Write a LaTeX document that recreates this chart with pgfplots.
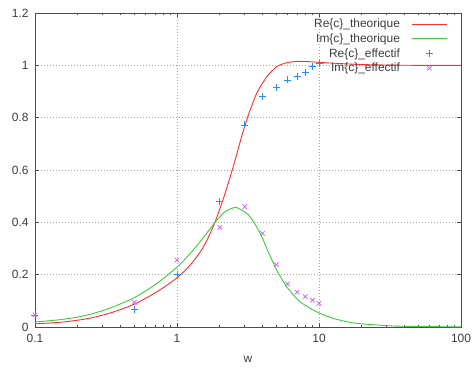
\documentclass[border=0pt]{standalone}
\usepackage{pgfplots}
\pgfplotsset{compat=1.18}
\usepackage{fontspec}
\setmainfont{Liberation Sans}
\definecolor{rec}{RGB}{255,45,45}
\definecolor{imc}{RGB}{60,205,60}
\definecolor{ree}{RGB}{40,140,255}
\definecolor{ime}{RGB}{205,90,255}
\definecolor{txt}{RGB}{60,60,60}
\begin{document}
\begin{tikzpicture}[x=1bp,y=1bp]
\useasboundingbox (-35,-43) rectangle (438,327);
\begin{axis}[
  at={(0,0)}, anchor=south west,
  scale only axis, width=426bp, height=314bp,
  xmode=log, xmin=0.1, xmax=100, ymin=0, ymax=1.2,
  xtick={0.1,1,10,100}, xticklabels={0.1,1,10,100},
  ytick={0,0.2,0.4,0.6,0.8,1,1.2},
  yticklabels={0,0.2,0.4,0.6,0.8,1,1.2},
  /pgf/number format/assume math mode=true,
  tick label style={font=\fontsize{12}{14}\selectfont, text=txt},
  label style={font=\fontsize{12}{14}\selectfont, text=txt},
  xlabel={w},
  xlabel style={at={(axis description cs:0.5,0)}, anchor=north, yshift=-26bp},
  xticklabel style={yshift=-4bp},
  yticklabel style={xshift=-3bp},
  axis line style={black!70, line width=0.8bp},
  major tick length=4bp, minor tick length=2.5bp,
  tick style={black!70, line width=0.6bp},
  grid=major,
  major grid style={black!35, line width=0.7bp, dash pattern=on 1bp off 2bp},
  legend style={at={(415/426,1-2/314)}, anchor=north east, draw=none, fill=none,
    font=\fontsize{12}{14}\selectfont, text=txt, row sep=0.5bp, column sep=10bp,
    cells={anchor=east}},
  legend plot pos=right,
  legend image code/.code={\draw[mark repeat=2,mark phase=2] plot coordinates {(0bp,0bp)(17bp,0bp)(34bp,0bp)};},
]
\addplot[rec, line width=0.9bp, smooth, tension=0.4] coordinates {
(0.1,0.012) (0.15,0.018) (0.2,0.026) (0.25,0.035) (0.337,0.053) (0.5,0.087)
(0.72,0.134) (1.0,0.188) (1.235,0.236) (1.45,0.285) (1.62,0.330) (1.85,0.400)
(2.12,0.490) (2.49,0.613) (2.85,0.727) (3.18,0.810) (3.64,0.893) (4.28,0.956)
(5.03,0.995) (5.92,1.010) (6.97,1.015) (8.5,1.014) (10.2,1.011) (15,1.006)
(20,1.003) (30,1.001) (50,1.000) (100,1.000)};
\addlegendentry{Re\{c\}\_theorique}
\addplot[imc, line width=0.9bp, smooth, tension=0.4] coordinates {
(0.1,0.019) (0.15,0.028) (0.2,0.038) (0.25,0.050) (0.337,0.072) (0.5,0.112)
(0.72,0.166) (1.0,0.229) (1.235,0.280) (1.45,0.325) (1.85,0.399) (2.18,0.441)
(2.6,0.457) (3.10,0.434) (3.44,0.405) (3.7,0.375) (4.0,0.340) (4.28,0.301)
(5.03,0.218) (5.92,0.154) (7.34,0.097) (9.63,0.058) (12.6,0.033) (16.5,0.018)
(20,0.012) (33,0.004) (50,0.002) (100,0.0005)};
\addlegendentry{Im\{c\}\_theorique}
\addplot[only marks, mark=+, mark size=3.5bp, ree, line width=0.7bp] coordinates {
(0.1,0.046) (0.5,0.068) (1,0.201) (2,0.480) (3,0.772) (4,0.880) (5,0.917)
(6,0.944) (7,0.957) (8,0.974) (9,0.996) (10,1.008)};
\addlegendentry{Re\{c\}\_effectif}
\addplot[only marks, mark=x, mark size=3.2bp, ime, line width=0.7bp] coordinates {
(0.1,0.046) (0.5,0.094) (1,0.256) (2,0.381) (3,0.460) (4,0.358) (5,0.238)
(6,0.164) (7,0.133) (8,0.116) (9,0.103) (10,0.090)};
\addlegendentry{Im\{c\}\_effectif}
\end{axis}
\end{tikzpicture}
\end{document}
